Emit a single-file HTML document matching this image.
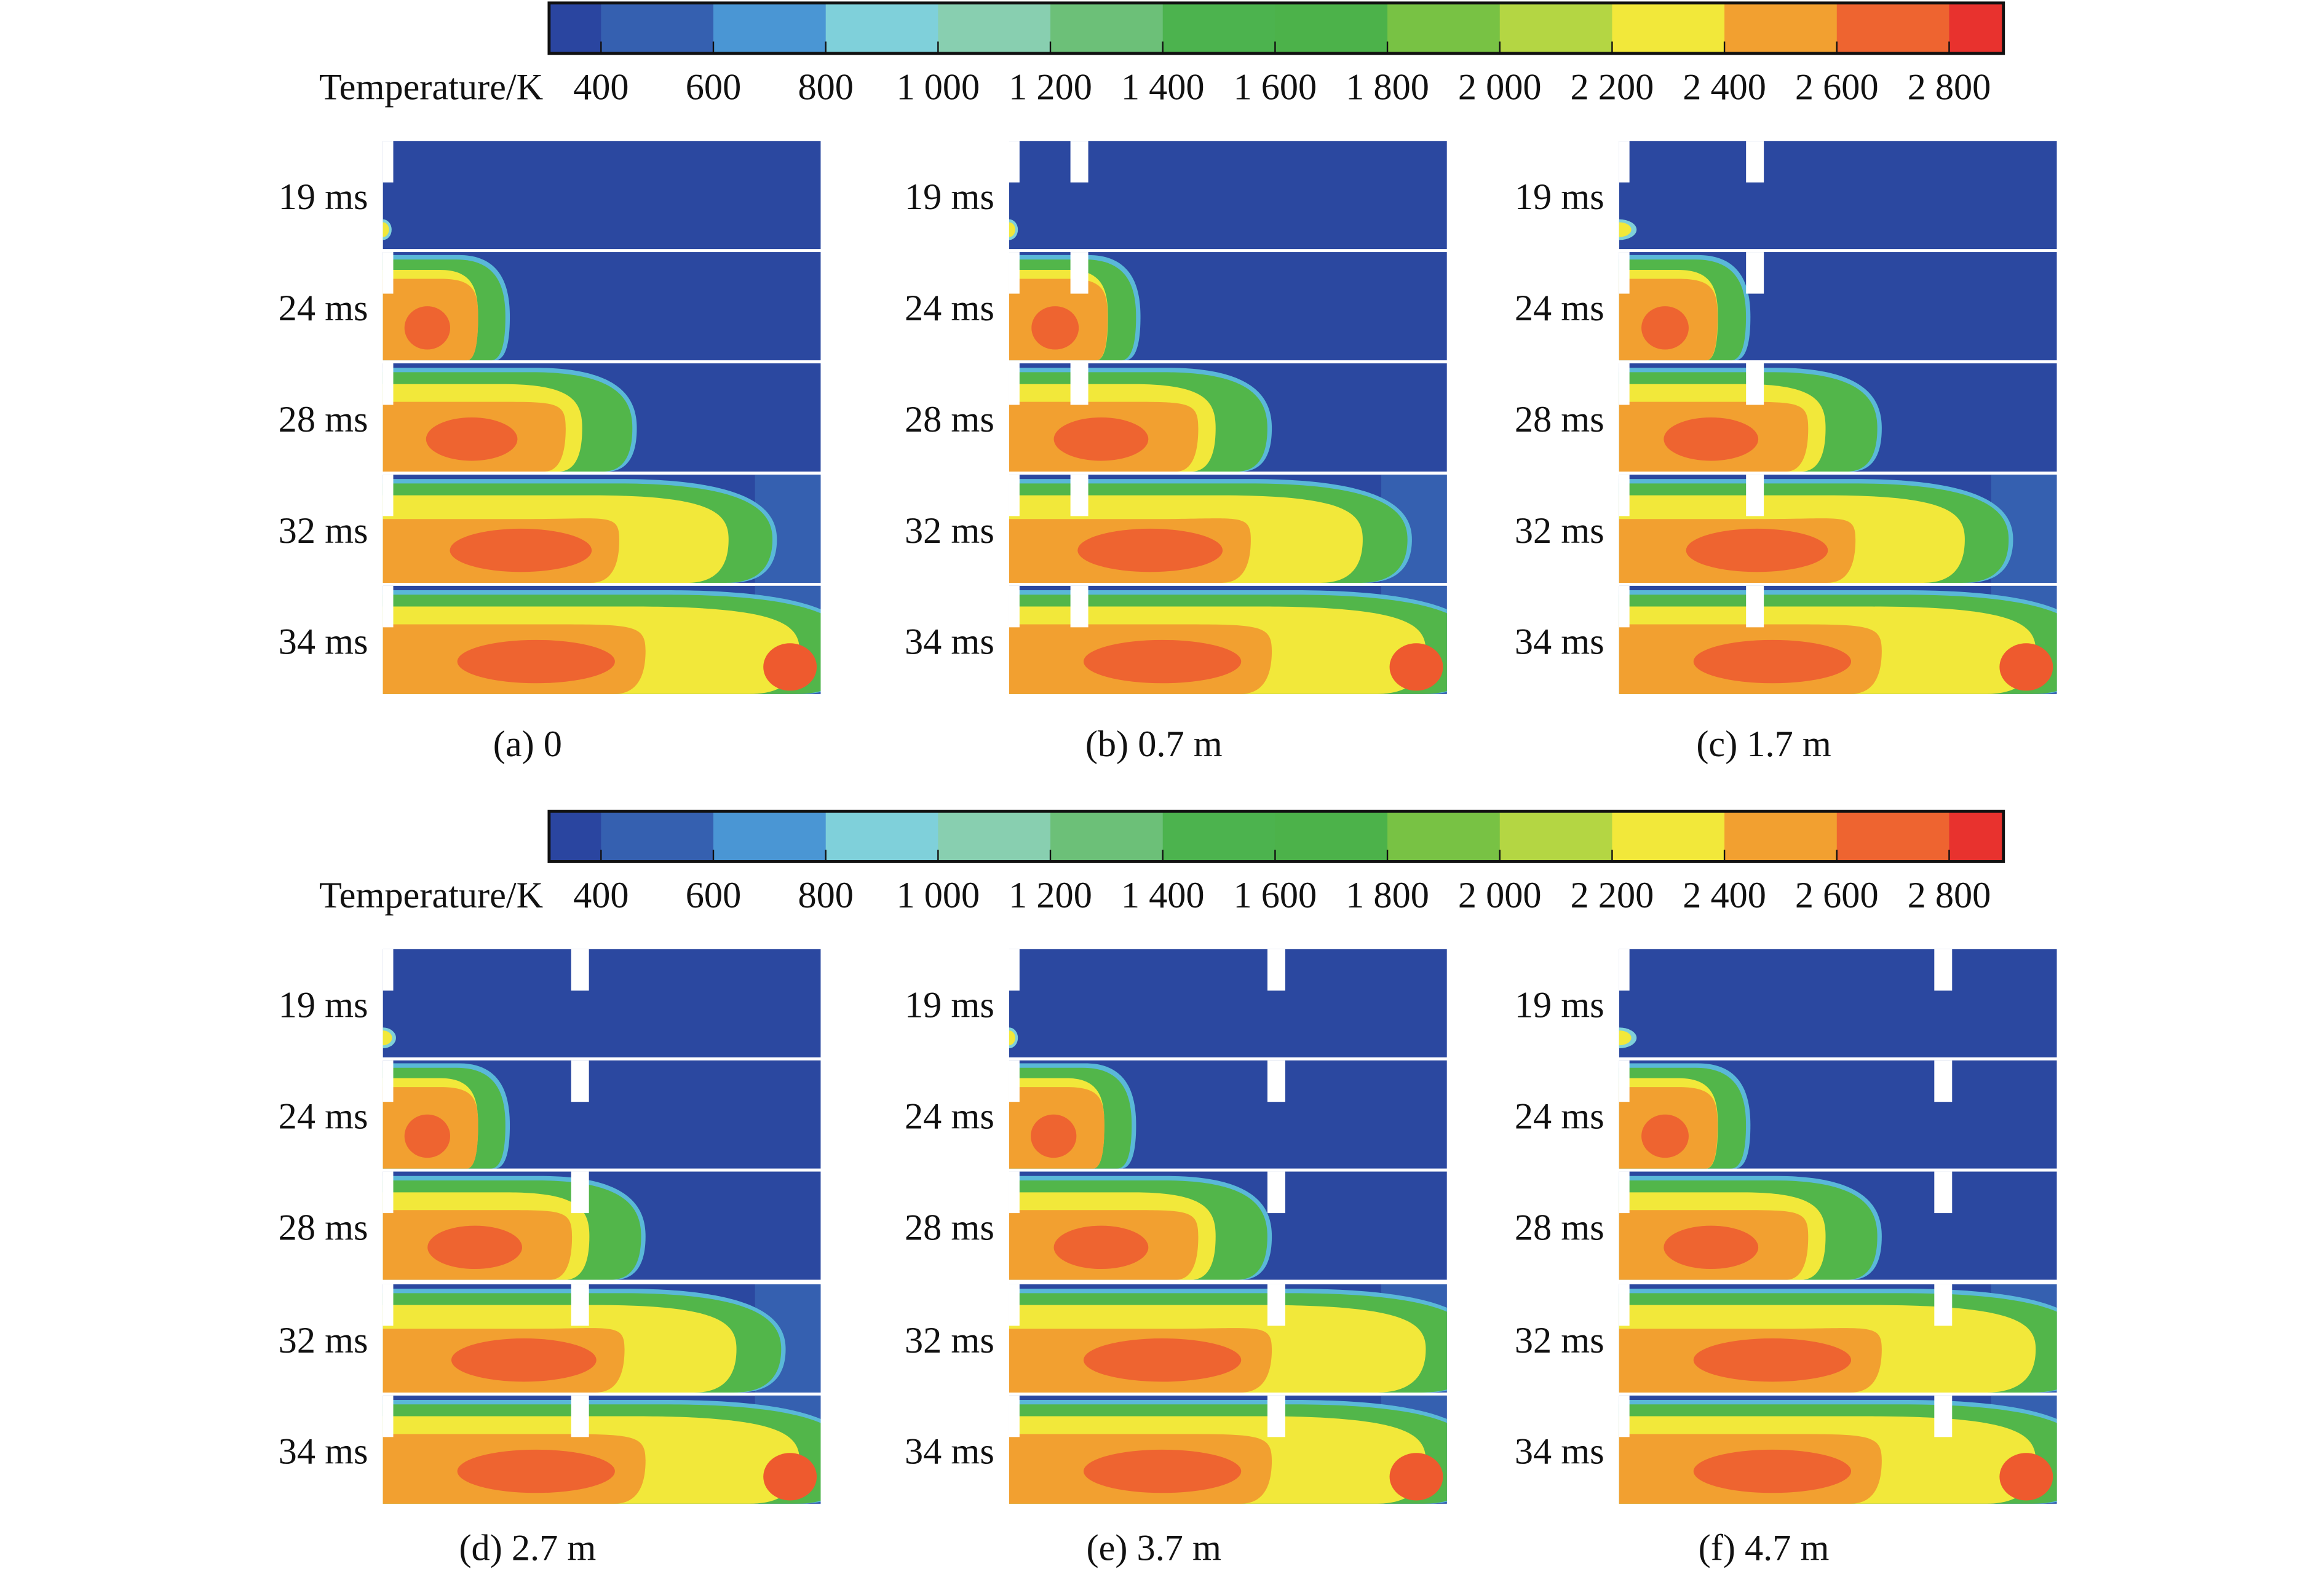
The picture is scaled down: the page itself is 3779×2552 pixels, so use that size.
<!DOCTYPE html>
<html><head><meta charset="utf-8"><style>
html,body{margin:0;padding:0;background:#fff}
svg{display:block}
text{font-family:"Liberation Serif","DejaVu Serif",serif;fill:#111}
</style></head><body>
<svg id="fig" width="3779" height="2552" viewBox="0 0 1566 1058" preserveAspectRatio="none" xmlns="http://www.w3.org/2000/svg"></svg>
<script>
// ---- data ----
const tickLabels = ["400","600","800","1 000","1 200","1 400","1 600","1 800","2 000","2 200","2 400","2 600","2 800"];
const barColors = ["#2a45a0","#3560b0","#4a96d4","#7fd0da","#88cfb0","#6cc078","#4cb34e","#4cb24a","#78c244","#b4d643","#f2e83a","#f2a030","#ee6430","#e8322e"];
const caseLabels = ["(a) 0","(b) 0.7 m","(c) 1.7 m","(d) 2.7 m","(e) 3.7 m","(f) 4.7 m"];
const timeLabels = ["19 ms","24 ms","28 ms","32 ms","34 ms"];
const obstaclePos = [0, 0.14, 0.29, 0.43, 0.59, 0.72];
const frontA = [0.02,0.29,0.58,0.90,1.0];
const frontB = [0.02,0.30,0.60,0.92,1.0];
const frontC = [0.04,0.30,0.60,0.90,1.0];
const frontD = [0.03,0.29,0.60,0.92,1.0];
const frontE = [0.02,0.29,0.60,1.0,1.0];
const frontF = [0.04,0.30,0.60,1.0,1.0];
const fronts = [frontA,frontB,frontC,frontD,frontE,frontF];

const svg = document.getElementById('fig');
const NS = "http://www.w3.org/2000/svg";
function mk(tag, attrs, parent){const e=document.createElementNS(NS,tag);for(const k in attrs)e.setAttribute(k,attrs[k]);(parent||svg).appendChild(e);return e;}

function colorbar(y0){
  const g = mk('g',{});
  
  
  const x0=370,x1=1350,first=405,step=75.7;
  for(let i=0;i<barColors.length;i++){
    const a = i===0?x0:first+(i-1)*step;
    const b = i===barColors.length-1?x1:first+i*step;
    const r = mk('rect',{x:a,y:y0,width:b-a+0.5,height:34,fill:barColors[i]},g);
    
    
  }
  mk('rect',{x:x0,y:y0,width:x1-x0,height:34,fill:'none',stroke:'#111','stroke-width':2},g);
  tickLabels.forEach((t,i)=>{
    const x=first+i*step;
    mk('line',{x1:x,x2:x,y1:y0+26,y2:y0+34,stroke:'#111','stroke-width':1},g);
    const tx=mk('text',{x:x,y:y0+65,'font-size':25,'text-anchor':'middle'},g);
    tx.textContent=t;
    
    
  });
  const tt=mk('text',{x:366,y:y0+65,'font-size':25,'text-anchor':'end'},g);
  tt.textContent="Temperature/K";
  
  
}
colorbar(2);
colorbar(547);

function headPath(x0,y0,W,h,top){
  const t=y0+top;
  return `M${x0},${t} L${x0+W*0.6},${t} C${x0+W*0.95},${t} ${x0+W},${y0+h*0.35} ${x0+W},${y0+h*0.6} C${x0+W},${y0+h*0.95} ${x0+W*0.93},${y0+h} ${x0+W*0.88},${y0+h} L${x0},${y0+h} Z`;
}

const panelX=[258,680,1091];
const rowYTop=[95,170,245,320,395];
const rowYBot=[640,715,790,866,941];
const PW=295, RH=73;
for(let c=0;c<6;c++){
  const px=panelX[c%3];
  const rowsY = c<3?rowYTop:rowYBot;
  const g=mk('g',{});
  
  
  rowsY.forEach((y,r)=>{
    const f=fronts[c][r];
    const rg=mk('g',{},g);
    
    
    const clipId='cl'+c+'_'+r;
    const cp=mk('clipPath',{id:clipId},rg);
    mk('rect',{x:px,y:y,width:PW,height:RH},cp);
    const inner=mk('g',{'clip-path':`url(#${clipId})`},rg);
    mk('rect',{x:px,y:y,width:PW,height:RH,fill:'#2b48a0'},inner);
    const W=f*PW;
    if(r===0){
      mk('ellipse',{cx:px,cy:y+RH*0.82,rx:Math.max(W,4),ry:7,fill:'#7fd0da'},inner);
      mk('ellipse',{cx:px,cy:y+RH*0.82,rx:Math.max(W,4)*0.7,ry:5,fill:'#f2e83a'},inner);
    } else {
      const ext = f>=1?1.08:1;
      if(r>=3) mk('rect',{x:px+PW*0.85,y:y,width:PW*0.15,height:RH,fill:'#3560b0'},inner);
      mk('path',{d:headPath(px,y,W*ext,RH,r===1?2:3),fill:'#5ab8d8'},inner);
      mk('path',{d:headPath(px,y,W*ext-3,RH,r===1?5:6),fill:'#52b64a'},inner);
      const yf = r>=3?0.9:0.82;
      mk('path',{d:headPath(px,y,W*ext*yf-6,RH,r===1?12:14),fill:'#f2e83a'},inner);
      const of = r===1?0.75:(r===2?0.72:0.6);
      mk('path',{d:headPath(px,y,W*of,RH,r===1?18:(r===3?30:26)),fill:'#f2a030'},inner);
      mk('ellipse',{cx:px+W*0.35,cy:y+RH*0.7,rx:W*0.18,ry:RH*0.2,fill:'#ee6430'},inner);
      if(r===4) mk('ellipse',{cx:px+PW*0.93,cy:y+RH*0.75,rx:18,ry:16,fill:'#ee5a2e'},inner);
    }
    mk('rect',{x:px,y:y,width:7,height:28,fill:'#fff'},inner);
    if(obstaclePos[c]>0){
      const o=mk('rect',{x:px+obstaclePos[c]*PW,y:y,width:12,height:28,fill:'#fff'},inner);
      
      
    }
    const lt=mk('text',{x:px-10,y:y+46,'font-size':25,'text-anchor':'end'},g);
    lt.textContent=timeLabels[r];
    
    
  });
  const cap=mk('text',{x:px+PW/2-50,y:c<3?510:1052,'font-size':25,'text-anchor':'middle'},g);
  cap.textContent=caseLabels[c];
  
  
}
</script>
</body></html>
